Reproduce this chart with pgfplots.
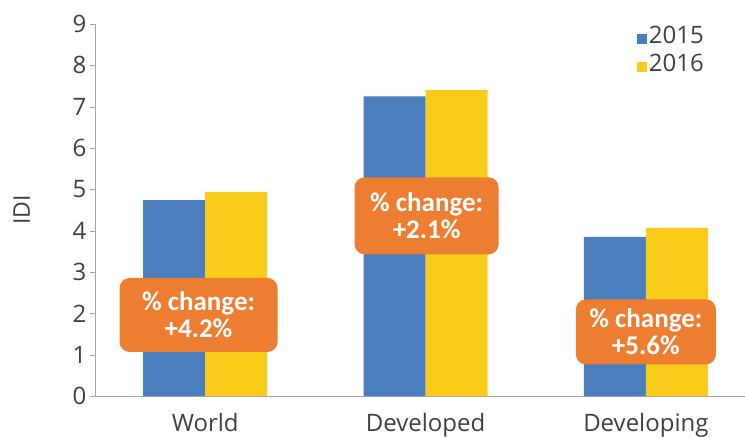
\documentclass[border=0pt]{standalone}
\usepackage{pgfplots}
\pgfplotsset{compat=1.18}
\usepackage{fontspec}
\setmainfont{Open Sans}
\newfontfamily\calib{Carlito}
\definecolor{blu}{HTML}{4A7EBF}
\definecolor{yel}{HTML}{F9CC1B}
\definecolor{org}{HTML}{ED7D31}
\definecolor{axgray}{HTML}{A6A6A6}
\definecolor{txt}{HTML}{404040}
\begin{document}
\begin{tikzpicture}
\begin{axis}[
  scale only axis, width=650pt, height=372pt,
  ybar=0pt, bar width=62pt,
  xmin=-0.5, xmax=2.45, ymin=0, ymax=9,
  xtick={0,1,2}, xticklabels={World,Developed,Developing},
  ytick={0,1,...,9},
  axis x line*=bottom, axis y line*=left,
  x axis line style={axgray,-}, y axis line style={axgray,-},
  xtick style={draw=none}, ytick style={axgray},
  tick align=outside, major tick length=5pt,
  tick label style={font=\fontsize{24}{28}\selectfont, text=txt},
  xticklabel style={yshift=-9pt},
  /pgf/number format/assume math mode=true,
  ylabel={IDI},
  every axis y label/.style={at={(axis description cs:-0.113,0.5)}, rotate=90, anchor=center,
    font=\fontsize{23}{26}\selectfont, text=txt},
  legend style={draw=none, fill=none, at={(0.94,1.0)}, anchor=north east,
    font=\fontsize{24}{28}\selectfont, text=txt, row sep=5pt, inner sep=0pt},
  legend cell align=left,
  legend image code/.code={\fill[#1] (2pt,-8pt) rectangle (12pt,2pt);},
]
\addplot[fill=blu, draw=none] coordinates {(0,4.74) (1,7.25) (2,3.85)};
\addplot[fill=yel, draw=none] coordinates {(0,4.94) (1,7.40) (2,4.07)};
\legend{2015,2016}
\tikzset{chg/.style={fill=org, rounded corners=10pt, text=white, align=center,
  font=\calib\bfseries\fontsize{27}{27}\selectfont, inner sep=0pt}}
\node[chg, minimum width=158pt, minimum height=74pt] at (axis cs:-0.03,1.96) {\% change:\\+4.2\%};
\node[chg, minimum width=144pt, minimum height=77pt] at (axis cs:1.005,4.36) {\% change:\\+2.1\%};
\node[chg, minimum width=140pt, minimum height=65pt] at (axis cs:2.0,1.55) {\% change:\\+5.6\%};
\end{axis}
\pgfresetboundingbox
\path (current axis.south west) ++(-95pt,-41pt) rectangle ++(745pt,437pt);
\end{tikzpicture}
\end{document}
